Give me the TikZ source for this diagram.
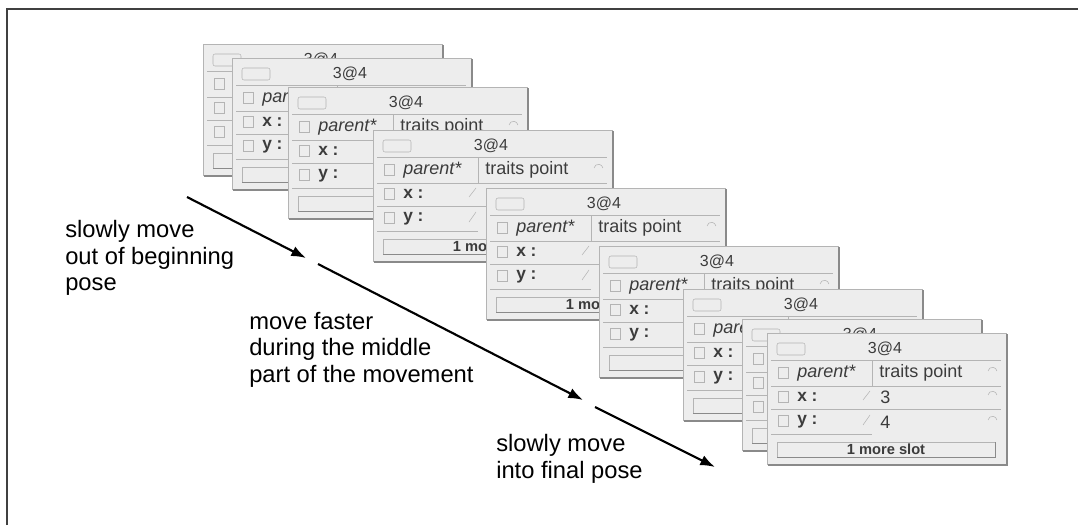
\documentclass[tikz,border=0pt]{standalone}
\usepackage{fontspec}
\setmainfont{Liberation Sans}
\usetikzlibrary{arrows.meta}

\definecolor{cardbg}{HTML}{EDEDED}
\definecolor{cardline}{HTML}{B4B4B4}
\definecolor{cardshade}{HTML}{8A8A8A}
\definecolor{cardink}{HTML}{3C3C3C}
\definecolor{frameline}{HTML}{404040}

% one outliner card, #1 = index, (#2,#3) = top left corner in px,
% #4 = how much of its text is left uncovered (0..4)
\newcommand{\outliner}[4]{%
  \begin{scope}[shift={(#2,#3)}]
    \fill[cardbg] (0,0) rectangle (240,132);
    \draw[cardline] (0,132) -- (0,0) -- (240,0);
    \draw[cardshade,line width=1.6pt] (240,1) -- (240,132) -- (1,132);
    % title row
    \draw[cardline,rounded corners=1.5pt] (10,10) rectangle (38,22);
    \node[cardtext,font=\fontsize{12}{12}\selectfont] (name#1) at (118,16) {3@4};
    \draw[cardline] (4,27) -- (234,27);
    % slot rows
    \draw[cardline] (11,34) rectangle (21,45);
    \draw[cardline] (105,27) -- (105,53);
    \draw[cardline] (221,38) arc (190:350:4.5);
    \draw[cardline] (4,53) -- (234,53);
    \draw[cardline] (11,58) rectangle (21,69);
    \draw[cardline] (96,67) -- (103,58);
    \draw[cardline] (221,62) arc (190:350:4.5);
    \draw[cardline] (4,76) -- (234,76);
    \draw[cardline] (11,82) rectangle (21,93);
    \draw[cardline] (96,92) -- (103,82);
    \draw[cardline] (221,87) arc (190:350:4.5);
    \draw[cardline] (4,101) -- (105,101);
    % more slots button
    \draw[cardline] (10,109) rectangle (228,124);
    \draw[cardshade] (10,124) -- (228,124) -- (228,109);
    \ifnum#4>0
      \node[cardtext,anchor=west,font=\fontsize{13.5}{13.5}\selectfont\itshape] (par#1) at (30,40) {parent*};
      \node[cardtext,anchor=west,font=\fontsize{13}{13}\selectfont\bfseries] (x#1) at (30,64) {x :};
      \node[cardtext,anchor=west,font=\fontsize{13}{13}\selectfont\bfseries] (y#1) at (30,89) {y :};
    \fi
    \ifnum#4>1
      \node[cardtext,anchor=west] (tp#1) at (112,40) {traits point};
    \fi
    \ifnum#4>2
      \node[cardtext,font=\fontsize{11}{11}\selectfont\bfseries] (more#1) at (119,116.5) {1 more slot};
    \fi
    \ifnum#4>3
      \node[cardtext,anchor=west] (xv#1) at (113,64) {3};
      \node[cardtext,anchor=west] (yv#1) at (113,89) {4};
    \fi
  \end{scope}}

\begin{document}
\begin{tikzpicture}[x=0.75pt,y=-0.75pt,
  cardtext/.style={inner sep=0pt,text=cardink,font=\fontsize{13.5}{13.5}\selectfont},
  note/.style={anchor=north west,align=left,inner sep=0pt,font=\fontsize{17.8}{19.9}\selectfont},
  motion/.style={line width=1.6pt,-{Latex[length=11pt,width=8pt]}}]
  \useasboundingbox (0,0) rectangle (1078,525);
  \draw[frameline,line width=1.2pt] (7,525) -- (7,9) -- (1078,9);

  % the animation frames, first to last
  \foreach \i/\cx/\cy/\lv in {1/203/44/0,2/232/58/1,3/288/87/2,4/373/130/3,
                              5/486/188/3,6/599/246/2,7/683/289/1,8/742/319/0,
                              9/767/333/4}
    {\outliner{\i}{\cx}{\cy}{\lv}}

  % motion arrows
  \coordinate (p0) at (187,197);
  \coordinate (p1) at (306,258);
  \coordinate (p2) at (318,264);
  \coordinate (p3) at (583,400);
  \coordinate (p4) at (595,407);
  \coordinate (p5) at (715,467);
  \draw[motion] (p0) -- (p1);
  \draw[motion] (p2) -- (p3);
  \draw[motion] (p4) -- (p5);

  \node[note] (slowout) at (65,220) {slowly move\\out of beginning\\pose};
  \node[note] (faster) at (249,312) {move faster\\during the middle\\part of the movement};
  \node[note] (slowin) at (496,434) {slowly move\\into final pose};
\end{tikzpicture}
\end{document}
